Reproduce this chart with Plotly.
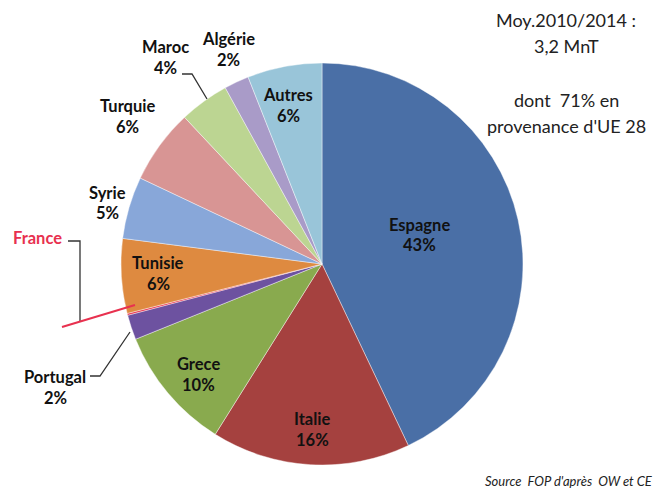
import plotly.graph_objects as go

# Import shares by origin (average 2010/2014), in percent
countries = ["Espagne", "Italie", "Grece", "Portugal", "France", "Tunisie",
             "Syrie", "Turquie", "Maroc", "Algérie", "Autres"]
shares = [43, 16, 10, 2, 0.15, 6, 5, 6, 4, 2, 6]
shown_pct = [43, 16, 10, 2, None, 6, 5, 6, 4, 2, 6]
colors = ["#4A6FA6", "#A5413F", "#89AA4E", "#6D52A0", "#E8314F", "#DE8A40",
          "#88A7D9", "#D89594", "#BCD592", "#A99BC8", "#99C5D9"]

W, H = 657, 493


def px(x, y):
    return x / W, 1 - y / H


fig = go.Figure(go.Pie(
    labels=countries,
    values=shares,
    sort=False,
    direction="clockwise",
    rotation=0,
    marker=dict(colors=colors, line=dict(color="rgba(255,255,255,0.7)", width=0.6)),
    textinfo="none",
    hoverinfo="label+percent",
    showlegend=False,
    domain=dict(x=[(322 - 201) / W, (322 + 201) / W],
                y=[1 - 465 / H, 1 - 63 / H]),
))

# label centres (pixels) for each slice's name / percent pair
label_pos = {
    "Espagne": (419, 235), "Italie": (312, 429), "Grece": (198, 374),
    "Portugal": (55, 387), "Tunisie": (158, 273), "Syrie": (107, 203),
    "Turquie": (127, 116), "Maroc": (165, 57), "Algérie": (228, 50),
    "Autres": (288, 106),
}
font_lbl = dict(family="Lato, Open Sans, sans-serif", size=16.5, color="#111111")
ann = []
for name, pct in zip(countries, shown_pct):
    if pct is None:
        continue
    cx, cy = label_pos[name]
    for txt, dy in ((f"<b>{name}</b>", -10.5), (f"<b>{pct}%</b>", 10.5)):
        x, y = px(cx, cy + dy)
        ann.append(dict(x=x, y=y, xref="paper", yref="paper", text=txt,
                        showarrow=False, xanchor="center", yanchor="middle",
                        font=font_lbl))

x, y = px(37, 238)
ann.append(dict(x=x, y=y, xref="paper", yref="paper", text="<b>France</b>",
                showarrow=False, xanchor="center", yanchor="middle",
                font=dict(family="Lato, Open Sans, sans-serif", size=16.5,
                          color="#E8314F")))

# summary text, top right
font_info = dict(family="Lato, Open Sans, sans-serif", size=18, color="#222222")
for txt, cy in (("Moy.2010/2014 :", 20), ("3,2 MnT", 46),
                ("dont  71% en", 100), ("provenance d'UE 28", 126)):
    x, y = px(566, cy)
    ann.append(dict(x=x, y=y, xref="paper", yref="paper", text=txt,
                    showarrow=False, xanchor="center", yanchor="middle",
                    font=font_info))

x, y = px(655, 491)
ann.append(dict(x=x, y=y, xref="paper", yref="paper",
                text="<i>Source  FOP d'après  OW et CE</i>",
                showarrow=False, xanchor="right", yanchor="bottom",
                font=dict(family="Lato, Open Sans, sans-serif", size=13,
                          color="#222222")))

# leader lines
shapes = []


def polyline(points, color, width):
    path = ""
    for i, (a, b) in enumerate(points):
        xx, yy = px(a, b)
        path += ("M" if i == 0 else "L") + f" {xx} {yy} "
    shapes.append(dict(type="path", path=path, xref="paper", yref="paper",
                       line=dict(color=color, width=width)))


polyline([(182, 74), (192, 74), (207, 99)], "#333333", 1.3)
polyline([(90, 376), (100, 376), (130, 332)], "#333333", 1.3)
polyline([(68, 241), (80, 241), (80, 322)], "#333333", 1.3)
polyline([(62, 327), (135, 305)], "#E8314F", 2)

fig.update_layout(
    width=W, height=H,
    margin=dict(l=0, r=0, t=0, b=0),
    paper_bgcolor="white",
    plot_bgcolor="white",
    annotations=ann,
    shapes=shapes,
)

fig.write_html("out.html")
